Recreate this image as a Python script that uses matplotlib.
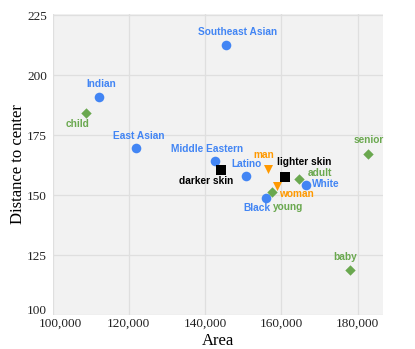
import matplotlib
matplotlib.use("Agg")
import matplotlib.pyplot as plt
from matplotlib.ticker import FuncFormatter
import matplotlib.transforms as mtransforms

# data
names = ["Southeast Asian", "Indian", "East Asian", "Middle Eastern", "Latino",
         "White", "Black",
         "darker skin", "lighter skin",
         "man", "woman",
         "child", "adult", "young", "senior", "baby"]
groups = ["race"] * 7 + ["skin"] * 2 + ["gender"] * 2 + ["age"] * 5
areas = [145500, 112100, 121900, 142500, 150800,
         166400, 155900,
         144100, 161000,
         156400, 158900,
         108700, 164500, 157600, 182700, 178000]
distances = [212.7, 191.0, 169.8, 164.3, 157.9,
             154.1, 149.0,
             160.4, 157.7,
             161.1, 153.7,
             184.4, 156.6, 151.3, 167.3, 118.7]

x_ticks = [100000, 120000, 140000, 160000, 180000]
y_ticks = [100, 125, 150, 175, 200, 225]

# styling per group
COLORS = {"race": "#4285f4", "skin": "#000000", "gender": "#ff9900", "age": "#6aa84f"}
MARKERS = {"race": "o", "skin": "s", "gender": "v", "age": "D"}
SIZES = {"race": 48, "skin": 44, "gender": 42, "age": 28}

# label offsets in pixels (dx, dy) relative to the point, y up
LABEL_OFFSETS = {
    "Southeast Asian": (11, 13), "Indian": (3, 13), "East Asian": (3, 12),
    "Middle Eastern": (-8, 12), "Latino": (0, 12.5), "White": (20.5, 1),
    "Black": (-8.5, -10), "darker skin": (-15, -10.5), "lighter skin": (19, 14.5),
    "man": (-3.5, 13.5), "woman": (19.5, -7.5), "child": (-8.5, -11.5),
    "adult": (21.5, 6.5), "young": (15.5, -14.5), "senior": (0.5, 13.5),
    "baby": (-5, 13.5),
}

fig = plt.figure(figsize=(4.15, 3.49), dpi=100)
ax = fig.add_axes([52.6 / 415, 34 / 349, 330.4 / 415, 301 / 349])
ax.set_facecolor("#f2f2f2")
for s in ax.spines.values():
    s.set_visible(False)
ax.grid(True, color="#dfdfdf", linewidth=0.9)
ax.set_axisbelow(True)

for g in ["race", "skin", "gender", "age"]:
    idx = [i for i, gg in enumerate(groups) if gg == g]
    ax.scatter([areas[i] for i in idx], [distances[i] for i in idx],
               s=SIZES[g], c=COLORS[g], marker=MARKERS[g], linewidths=0,
               zorder=3)

for name, g, xv, yv in zip(names, groups, areas, distances):
    dx, dy = LABEL_OFFSETS[name]
    ax.annotate(name, (xv, yv), xytext=(dx, dy), textcoords="offset pixels",
                ha="center", va="center", color=COLORS[g], fontsize=7.3,
                fontfamily="Liberation Sans", fontweight="bold", zorder=4)

ax.set_xlim(100000, 186650)
ax.set_ylim(100, 225.6)
ax.set_xticks(x_ticks)
ax.set_yticks(y_ticks)
ax.xaxis.set_major_formatter(FuncFormatter(lambda v, p: f"{int(v):,}"))
ax.tick_params(length=0, labelsize=9.5, colors="#222222")
ax.tick_params(axis="x", pad=2)
ax.tick_params(axis="y", pad=4)
for lab in ax.get_xticklabels() + ax.get_yticklabels():
    lab.set_fontfamily("Liberation Serif")
# corner labels nudged apart like in the reference
first_x = ax.get_xticklabels()[0]
first_x.set_transform(first_x.get_transform() +
                      mtransforms.ScaledTranslation(8 / 100, 0, fig.dpi_scale_trans))
first_y = ax.get_yticklabels()[0]
first_y.set_transform(first_y.get_transform() +
                      mtransforms.ScaledTranslation(0, 6 / 100, fig.dpi_scale_trans))

ax.set_xlabel("Area", fontsize=12, fontfamily="Liberation Serif", labelpad=2)
ax.set_ylabel("Distance to center", fontsize=12, fontfamily="Liberation Serif",
              labelpad=1)

fig.savefig("out.png", dpi=100, facecolor="white")
